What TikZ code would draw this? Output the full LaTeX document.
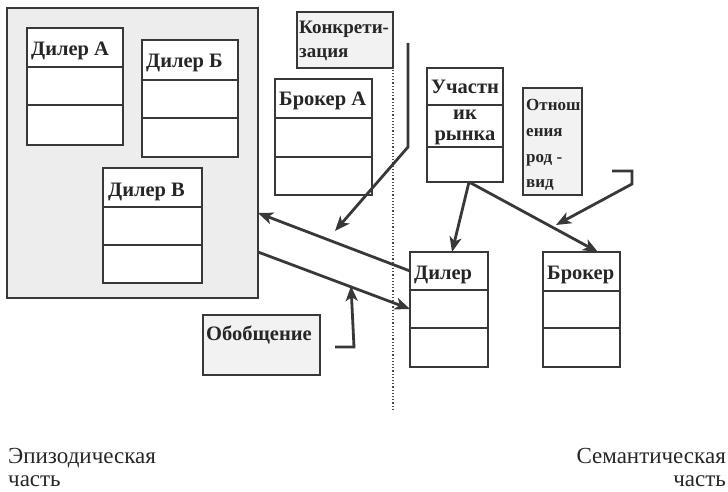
\documentclass[tikz,border=0pt]{standalone}
\usepackage{fontspec}
\setmainfont{Liberation Serif}
\usetikzlibrary{arrows.meta,calc}
\definecolor{ink}{HTML}{383838}
\tikzset{
  frame/.style={draw=ink, line width=2.8pt, fill=black!7, outer sep=0pt, inner sep=0pt, anchor=north west},
  box/.style={draw=ink, line width=2.6pt, fill=white, outer sep=0pt, inner sep=0pt, anchor=north west},
  notebox/.style={draw=ink, line width=2.6pt, fill=black!5, outer sep=0pt, inner sep=0pt, anchor=north west},
  divider/.style={draw=ink, line width=2.6pt},
  txt/.style={font=\fontsize{20.5}{21}\selectfont\bfseries, inner sep=0pt, anchor=base west, text=black!85},
  ctxt/.style={font=\fontsize{20.5}{21}\selectfont\bfseries, inner sep=0pt, anchor=base, text=black!85},
  kontxt/.style={font=\fontsize{19}{20}\selectfont\bfseries, inner sep=0pt, anchor=base west, text=black!85},
  smalltxt/.style={font=\fontsize{17}{18}\selectfont\bfseries, inner sep=0pt, anchor=base west, text=black!85},
  bot/.style={font=\fontsize{23}{24}\selectfont, inner sep=0pt, text=black!85},
  conn/.style={draw=ink, line width=2.8pt, -{Stealth[length=15pt,width=12pt,inset=4pt]}},
  sep/.style={draw=black!70, line width=1.2pt, dotted}
}
\begin{document}
\begin{tikzpicture}[x=1pt,y=-1pt]
\useasboundingbox (0,0) rectangle (728,492);
% episodic frame
\node[frame, minimum width=251pt, minimum height=290pt] (ep) at (7,8) {};
% Дилер А
\node[box, minimum width=96pt, minimum height=117pt] (dA) at (27,28) {};
\draw[divider] (27,67) -- (123,67) (27,105) -- (123,105);
\node[txt] (dAt) at (31,56) {Дилер А};
% Дилер Б
\node[box, minimum width=96pt, minimum height=117pt] (dB) at (142,40) {};
\draw[divider] (142,80) -- (238,80) (142,118) -- (238,118);
\node[txt] (dBt) at (146,68) {Дилер Б};
% Дилер В
\node[box, minimum width=99pt, minimum height=115pt] (dV) at (103,168) {};
\draw[divider] (103,207) -- (202,207) (103,245) -- (202,245);
\node[txt] (dVt) at (108,196) {Дилер В};
% separator
\draw[sep] (393,12) -- (393,412);
% Конкретизация
\node[notebox, minimum width=96pt, minimum height=56pt] (kon) at (297,12) {};
\node[kontxt] (kont1) at (299,34) {Конкрети-};
\node[kontxt] (kont2) at (299,58) {зация};
% Брокер А
\node[box, minimum width=97pt, minimum height=116pt] (bA) at (275,79) {};
\draw[divider] (275,118) -- (372,118) (275,157) -- (372,157);
\node[txt] (bAt) at (279,106) {Брокер А};
% Участник рынка
\node[box, minimum width=76pt, minimum height=114pt] (uch) at (427,68) {};
\draw[divider] (427,105) -- (503,105) (427,147) -- (503,147);
\node[ctxt] (ucht1) at (465,94) {Участн};
\node[ctxt] (ucht2) at (465,120) {ик};
\node[ctxt] (ucht3) at (465,140) {рынка};
% Отношения род-вид
\node[notebox, minimum width=59pt, minimum height=107pt] (otn) at (523,88) {};
\node[smalltxt] (otn1) at (526,111) {Отнош};
\node[smalltxt] (otn2) at (526,137) {ения};
\node[smalltxt] (otn3) at (526,162) {род -};
\node[smalltxt] (otn4) at (526,187) {вид};
% Дилер
\node[box, minimum width=78pt, minimum height=115pt] (dl) at (410,252) {};
\draw[divider] (410,290) -- (488,290) (410,328) -- (488,328);
\node[txt] (dlt) at (414,279) {Дилер};
% Брокер
\node[box, minimum width=77pt, minimum height=115pt] (br) at (543,252) {};
\draw[divider] (543,291) -- (620,291) (543,328) -- (620,328);
\node[txt] (brt) at (547,279) {Брокер};
% Обобщение
\node[notebox, minimum width=117pt, minimum height=60pt] (obo) at (203,315) {};
\node[txt] (obot) at (206,340) {Обобщение};
% connectors
\coordinate (konA) at (408,43);
\coordinate (konB) at (408,147);
\coordinate (konT) at (335,231);
\draw[conn] (konA) -- (konB) -- (konT);
\draw[conn] ($(dl.north west)+(0,19)$) -- ($(ep.north east)+(0,205)$);
\draw[conn] ($(ep.north east)+(0,244)$) -- ($(dl.north west)+(0,57)$);
\coordinate (oboA) at (335,347);
\coordinate (oboB) at (354,347);
\coordinate (oboT) at (351,286);
\draw[conn] (oboA) -- (oboB) -- (oboT);
\coordinate (uchs) at ($(uch.south)+(4,0)$);
\draw[conn] (uchs) -- ($(dl.north west)+(42,0)$);
\draw[conn] (uchs) -- ($(br.north west)+(55,0)$);
\coordinate (otnA) at (612,171);
\coordinate (otnB) at (632,171);
\coordinate (otnC) at (632,184);
\coordinate (otnT) at (556,225);
\draw[conn] (otnA) -- (otnB) -- (otnC) -- (otnT);
% bottom labels
\node[bot, anchor=base west] (epi1) at (8,463) {Эпизодическая};
\node[bot, anchor=base west] (epi2) at (8,486) {часть};
\node[bot, anchor=base east] (sem1) at (726,463) {Семантическая};
\node[bot, anchor=base east] (sem2) at (726,486) {часть};
\end{tikzpicture}
\end{document}
